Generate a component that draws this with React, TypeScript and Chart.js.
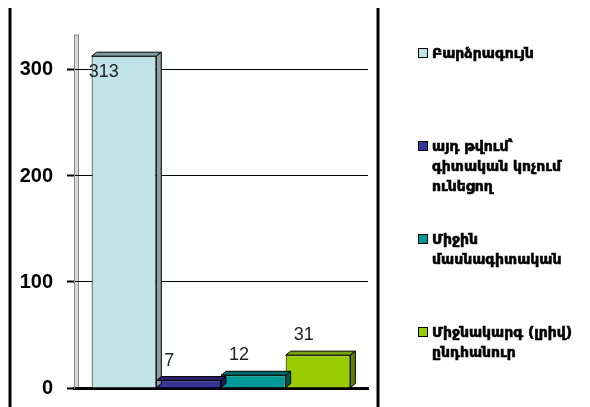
import React, { useEffect, useRef } from "react";
import { Chart, registerables } from "chart.js";

Chart.register(...registerables);

const categories = [""];
const seriesNames = [
  "Բարձրագույն",
  "այդ թվում՝\nգիտական կոչում\nունեցող",
  "Միջին\nմասնագիտական",
  "Միջնակարգ (լրիվ)\nընդհանուր",
];
const seriesValues = [[313], [7], [12], [31]];
const seriesColors = ["#BFE3E6", "#333399", "#009999", "#99CC00"];
const topColors = ["#7F9C9E", "#22226A", "#006B6B", "#7AA300"];
const sideColors = ["#8E9FA0", "#1A1A55", "#005555", "#5F7F00"];
const yTicks = [0, 100, 200, 300];
const yMax = 333;

const bar3d = {
  id: "bar3d",
  beforeDraw(chart: any) {
    const ctx = chart.ctx;
    const a = chart.chartArea;
    ctx.save();
    ctx.fillStyle = "#ffffff";
    ctx.fillRect(0, 0, chart.width, chart.height);
    ctx.strokeStyle = "#000";
    ctx.lineWidth = 3;
    ctx.beginPath();
    ctx.moveTo(10, 8);
    ctx.lineTo(10, chart.height);
    ctx.moveTo(378, 8);
    ctx.lineTo(378, chart.height);
    ctx.stroke();
    ctx.fillStyle = "#D8D8D8";
    ctx.fillRect(a.left, a.top, 4, a.bottom - a.top);
    ctx.strokeStyle = "#888";
    ctx.lineWidth = 1;
    ctx.strokeRect(a.left + 0.5, a.top, 4, a.bottom - a.top);
    ctx.restore();
  },
  afterDatasetsDraw(chart: any) {
    const ctx = chart.ctx;
    const a = chart.chartArea;
    const dx = 5;
    const dy = 4;
    ctx.save();
    chart.data.datasets.forEach((ds: any, i: number) => {
      const meta = chart.getDatasetMeta(i);
      meta.data.forEach((bar: any, j: number) => {
        const p = bar.getProps(["x", "y", "base", "width"], true);
        const l = p.x - p.width / 2;
        const r = p.x + p.width / 2;
        const y = p.y;
        const b = p.base;
        ctx.lineWidth = 1;
        ctx.strokeStyle = "#000";
        ctx.fillStyle = topColors[i];
        ctx.beginPath();
        ctx.moveTo(l, y);
        ctx.lineTo(l + dx, y - dy);
        ctx.lineTo(r + dx, y - dy);
        ctx.lineTo(r, y);
        ctx.closePath();
        ctx.fill();
        ctx.stroke();
        ctx.fillStyle = sideColors[i];
        ctx.beginPath();
        ctx.moveTo(r, y);
        ctx.lineTo(r + dx, y - dy);
        ctx.lineTo(r + dx, b - dy);
        ctx.lineTo(r, b);
        ctx.closePath();
        ctx.fill();
        ctx.stroke();
        const v = ds.data[j];
        ctx.font = "18px 'Liberation Sans', Arial, sans-serif";
        ctx.fillStyle = "#222";
        ctx.textAlign = "left";
        ctx.textBaseline = "middle";
        let ly = y - 20;
        let lx = l + 8;
        if (ly < a.top + 10) {
          ly = y + 16;
          lx = l - 3;
        }
        ctx.fillText(String(v), lx, ly);
      });
    });
    ctx.restore();
  },
};

export default function App() {
  const ref = useRef<HTMLCanvasElement | null>(null);
  useEffect(() => {
    if (!ref.current) return;
    const chart = new Chart(ref.current, {
      type: "bar",
      data: {
        labels: categories,
        datasets: seriesNames.map((n, i) => ({
          label: n,
          data: seriesValues[i],
          backgroundColor: seriesColors[i],
          borderColor: "#000",
          borderWidth: 1,
          barPercentage: 1,
          categoryPercentage: 0.88,
        })),
      },
      options: {
        animation: false,
        responsive: false,
        maintainAspectRatio: false,
        layout: { padding: { left: 0, right: 222, top: 35, bottom: 19 } },
        plugins: {
          legend: { display: false },
          tooltip: { enabled: false },
        },
        scales: {
          x: {
            ticks: { display: false },
            grid: { display: false, drawTicks: false },
            border: { display: true, color: "#000", width: 3 },
            afterFit(scale: any) {
              scale.height = 0;
              scale.paddingLeft = 0;
              scale.paddingRight = 0;
            },
          },
          y: {
            min: 0,
            max: yMax,
            afterBuildTicks(scale: any) {
              scale.ticks = yTicks.map((v) => ({ value: v }));
            },
            afterFit(scale: any) {
              scale.width = 74;
              scale.paddingTop = 0;
              scale.paddingBottom = 0;
            },
            ticks: {
              padding: 14,
              color: "#000",
              font: { family: "'Liberation Sans', Arial, sans-serif", size: 20, weight: "bold" },
            },
            grid: {
              color: "#000",
              lineWidth: 1,
              tickLength: 7,
              tickWidth: 2,
              tickColor: "#000",
            },
            border: { display: true, color: "#888", width: 1 },
          },
        },
      },
      plugins: [bar3d],
    });
    return () => chart.destroy();
  }, []);

  return (
    <div style={{ position: "absolute", left: 0, top: 0, width: 590, height: 407, background: "#fff" }}>
      <canvas ref={ref} width={590} height={407} style={{ position: "absolute", left: 0, top: 0 }} />
      {seriesNames.map((n, i) => (
        <div
          key={i}
          style={{
            position: "absolute",
            left: 418,
            top: 48 + i * 93,
            display: "flex",
            alignItems: "flex-start",
          }}
        >
          <div
            style={{
              width: 8,
              height: 8,
              marginTop: 0,
              background: seriesColors[i],
              border: "1.5px solid #000",
              flex: "none",
            }}
          />
          <div
            style={{
              marginLeft: 4,
              whiteSpace: "pre-line",
              fontFamily: "'DejaVu Sans', sans-serif",
              fontWeight: "bold",
              fontSize: 14,
              lineHeight: "20px",
              color: "#000",
              marginTop: -5,
              WebkitTextStroke: "0.6px #000",
            }}
          >
            {n}
          </div>
        </div>
      ))}
    </div>
  );
}
